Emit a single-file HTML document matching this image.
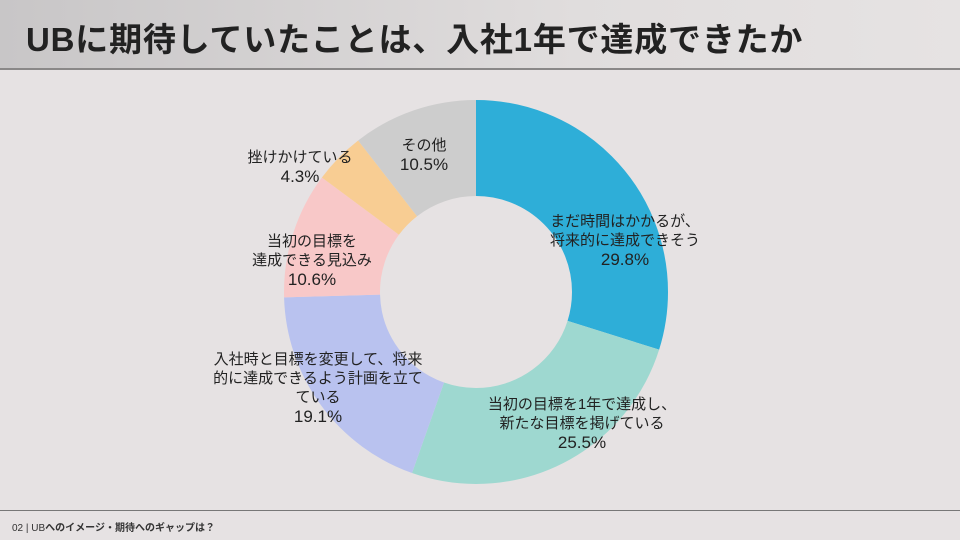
<!DOCTYPE html>
<html><head><meta charset="utf-8"><style>
body{margin:0;width:960px;height:540px;background:#e6e2e3;overflow:hidden;position:relative;font-family:"Liberation Sans","Noto Sans CJK JP",sans-serif;}
.hd{position:absolute;left:0;top:0;width:960px;height:70px;background:linear-gradient(90deg,#c8c6c7,#e0dddd 60%,#e6e3e3);border-bottom:2px solid #8a8888;box-sizing:border-box;}
.hd h1{margin:0;position:absolute;left:26px;top:13px;font-size:33px;font-weight:bold;color:#222;letter-spacing:0.8px;}
.ft{position:absolute;left:0;top:510px;width:960px;border-top:1px solid #777;}
.ft span{position:absolute;left:12px;top:8px;font-size:10px;color:#333;}
.l{position:absolute;text-align:center;font-size:15px;color:#222;line-height:19px;transform:translateX(-50%);white-space:nowrap;}
.l b{font-size:17px;font-weight:normal;}
</style></head><body>
<div class="hd"><h1>UBに期待していたことは、入社1年で達成できたか</h1></div>
<svg width="960" height="540" style="position:absolute;left:0;top:0">
<g transform="rotate(-90 476 292)" fill="none" stroke-width="96">
<circle cx="476" cy="292" r="144" pathLength="99.8" stroke="#2eaed8" stroke-dasharray="29.8 200" stroke-dashoffset="0"/>
<circle cx="476" cy="292" r="144" pathLength="99.8" stroke="#9ed8d0" stroke-dasharray="25.5 200" stroke-dashoffset="-29.8"/>
<circle cx="476" cy="292" r="144" pathLength="99.8" stroke="#b9c2ef" stroke-dasharray="19.1 200" stroke-dashoffset="-55.3"/>
<circle cx="476" cy="292" r="144" pathLength="99.8" stroke="#f8c8c8" stroke-dasharray="10.6 200" stroke-dashoffset="-74.4"/>
<circle cx="476" cy="292" r="144" pathLength="99.8" stroke="#f8cd93" stroke-dasharray="4.3 200" stroke-dashoffset="-85"/>
<circle cx="476" cy="292" r="144" pathLength="99.8" stroke="#cdcdcd" stroke-dasharray="10.5 200" stroke-dashoffset="-89.3"/>
</g>
</svg>
<div class="l" style="left:625px;top:212px">まだ時間はかかるが、<br>将来的に達成できそう<br><b>29.8%</b></div>
<div class="l" style="left:582px;top:395px">当初の目標を1年で達成し、<br>新たな目標を掲げている<br><b>25.5%</b></div>
<div class="l" style="left:318px;top:350px">入社時と目標を変更して、将来<br>的に達成できるよう計画を立て<br>ている<br><b>19.1%</b></div>
<div class="l" style="left:312px;top:232px">当初の目標を<br>達成できる見込み<br><b>10.6%</b></div>
<div class="l" style="left:300px;top:148px">挫けかけている<br><b>4.3%</b></div>
<div class="l" style="left:424px;top:136px">その他<br><b>10.5%</b></div>
<div class="ft"><span>02 | UB<b style="font-weight:600">へのイメージ・期待へのギャップは？</b></span></div>
</body></html>
